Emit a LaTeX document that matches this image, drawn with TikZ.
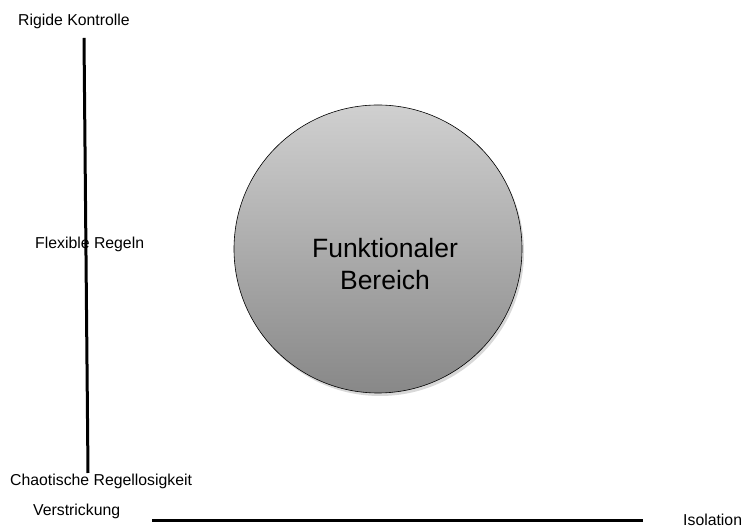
\documentclass[tikz,border=0pt]{standalone}
\usepackage{fontspec}
\setmainfont{Liberation Sans}
\usetikzlibrary{shadows}
\definecolor{circtop}{RGB}{208,208,208}
\definecolor{circbot}{RGB}{136,136,136}
\tikzset{
  lbl/.style={inner sep=0pt, font=\fontsize{15.8}{18}\selectfont},
  axis/.style={line width=3pt},
  zone/.style={circle, draw=black, line width=0.6pt, minimum size=288pt,
    top color=circtop, bottom color=circbot,
    drop shadow={shadow xshift=2pt, shadow yshift=-3pt, fill=black!30, opacity=0.5}}
}
\begin{document}
\begin{tikzpicture}[x=1pt,y=1pt]
  \useasboundingbox (0,0) rectangle (744,529);
  % central region
  \node[zone] (zone) at (378,280) {};
  \node[align=center, font=\fontsize{26.5}{32}\selectfont] (ztext) at (385,265)
    {Funktionaler\\Bereich};
  % vertical axis
  \coordinate (vtop) at (84,491);
  \coordinate (vbot) at (88,56);
  \draw[axis] (vtop) -- (vbot);
  % horizontal axis
  \coordinate (hleft) at (152,8);
  \coordinate (hright) at (643,8);
  \draw[axis] (hleft) -- (hright);
  % labels
  \node[lbl, anchor=west] (rigid) at (18,508) {Rigide Kontrolle};
  \node[lbl, anchor=west] (flex) at (35,285) {Flexible Regeln};
  \node[lbl, anchor=west] (chaos) at (10,48) {Chaotische Regellosigkeit};
  \node[lbl, anchor=west] (verst) at (33,18) {Verstrickung};
  \node[lbl, anchor=west] (iso) at (683,9) {Isolation};
\end{tikzpicture}
\end{document}
